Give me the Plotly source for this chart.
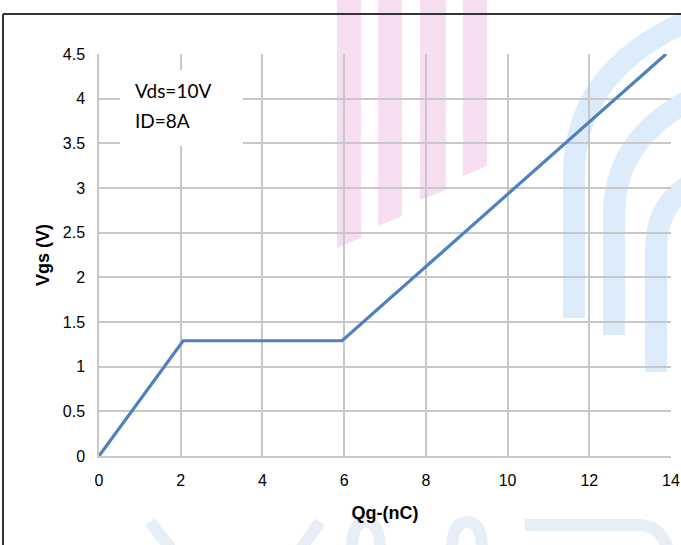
import plotly.graph_objects as go

qg_nc = [0, 2.06, 5.95, 13.88]
vgs_v = [0, 1.29, 1.29, 4.5]
x_ticks = [0, 2, 4, 6, 8, 10, 12, 14]
y_ticks = [0, 0.5, 1, 1.5, 2, 2.5, 3, 3.5, 4, 4.5]
y_tick_text = ["0", "0.5", "1", "1.5", "2", "2.5", "3", "3.5", "4", "4.5"]

fig = go.Figure()
fig.add_trace(go.Scatter(x=qg_nc, y=vgs_v, mode="lines",
                         line=dict(color="#4f81bd", width=3.2), showlegend=False,
                         cliponaxis=False))

W, H = 681, 545
L, R, T, B = 99, 10, 54, 89
PW, PH = W - L - R, H - T - B

def px(x):
    return (x - L) / PW

def py(y):
    return (H - B - y) / PH

shapes = []
# pink watermark bars (slanted bottoms)
pink = "rgba(236,190,230,0.5)"
bars = [(337, 361, 248, 238), (378, 402, 226, 216), (420, 446, 200, 190), (463, 487, 176, 166)]
for x0, x1, yb0, yb1 in bars:
    path = f"M {px(x0)} {py(0)} L {px(x1)} {py(0)} L {px(x1)} {py(yb1)} L {px(x0)} {py(yb0)} Z"
    shapes.append(dict(type="path", xref="paper", yref="paper", path=path,
                       fillcolor=pink, line=dict(width=0), layer="below"))
# blue bands on the right
blue = "rgba(170,208,242,0.4)"
bands = [((574, 318), (574, 175), (574, 70), (690, 20)),
         ((614, 335), (614, 215), (614, 140), (690, 100)),
         ((656, 372), (656, 250), (656, 205), (690, 185))]
for (a, b, c, d) in bands:
    path = (f"M {px(a[0])} {py(a[1])} L {px(b[0])} {py(b[1])} "
            f"Q {px(c[0])} {py(c[1])} {px(d[0])} {py(d[1])}")
    shapes.append(dict(type="path", xref="paper", yref="paper", path=path,
                       line=dict(color=blue, width=22), layer="below"))
# faint letters at the bottom
faint = "rgba(190,205,230,0.35)"
strokes = [
    f"M {px(150)} {py(522)} L {px(172)} {py(550)}",
    f"M {px(320)} {py(522)} L {px(300)} {py(550)}",
    f"M {px(352)} {py(550)} Q {px(352)} {py(522)} {px(366)} {py(522)} Q {px(380)} {py(522)} {px(380)} {py(550)}",
    f"M {px(452)} {py(550)} Q {px(452)} {py(522)} {px(467)} {py(522)} Q {px(482)} {py(522)} {px(482)} {py(550)}",
    f"M {px(525)} {py(525)} L {px(640)} {py(525)} Q {px(660)} {py(525)} {px(668)} {py(550)}",
]
for p in strokes:
    shapes.append(dict(type="path", xref="paper", yref="paper", path=p,
                       line=dict(color=faint, width=12), layer="below"))
# frame lines
shapes.append(dict(type="line", xref="paper", yref="paper", x0=px(3), x1=px(681),
                   y0=py(14), y1=py(14), line=dict(color="#333333", width=2)))
shapes.append(dict(type="line", xref="paper", yref="paper", x0=px(3), x1=px(3),
                   y0=py(14), y1=py(545), line=dict(color="#333333", width=2)))
# white annotation box
shapes.append(dict(type="rect", xref="paper", yref="paper", x0=px(120), x1=px(243),
                   y0=py(146), y1=py(70), fillcolor="white", line=dict(width=0), layer="above"))

fig.update_layout(
    width=W, height=H,
    margin=dict(l=L, r=R, t=T, b=B, pad=0, autoexpand=False),
    paper_bgcolor="white", plot_bgcolor="rgba(0,0,0,0)",
    font=dict(family="Liberation Sans, Arial", size=16, color="#000000"),
    shapes=shapes,
    xaxis=dict(range=[0, 14], tickvals=x_ticks, showgrid=True, gridcolor="#c8c8c8", gridwidth=1.5,
               showline=True, linecolor="#c8c8c8", linewidth=1.5, zeroline=False, automargin=False,
               ticks="outside", ticklen=9, tickcolor="rgba(0,0,0,0)", mirror=False,
               title=dict(text="<b>Qg-(nC)</b>", font=dict(size=18), standoff=18), fixedrange=True),
    yaxis=dict(range=[0, 4.5], tickvals=y_ticks, ticktext=y_tick_text, showgrid=True,
               gridcolor="#c8c8c8", gridwidth=1.5, automargin=False,
               showline=True, linecolor="#c8c8c8", linewidth=1.5, zeroline=False,
               ticks="outside", ticklen=9, tickcolor="rgba(0,0,0,0)",
               title=dict(text="<b>Vgs (V)</b>", font=dict(size=18), standoff=8), fixedrange=True),
    annotations=[
        dict(xref="paper", yref="paper", x=px(133), y=py(91), xanchor="left", yanchor="middle",
             text="Vds=10V", showarrow=False, font=dict(family="Lato, Open Sans", size=19)),
        dict(xref="paper", yref="paper", x=px(133), y=py(121), xanchor="left", yanchor="middle",
             text="ID=8A", showarrow=False, font=dict(family="Lato, Open Sans", size=19)),
    ],
)

fig.write_html("out.html", config={"displayModeBar": False},
               post_script="document.body.style.margin='0';document.body.style.overflow='hidden';")
